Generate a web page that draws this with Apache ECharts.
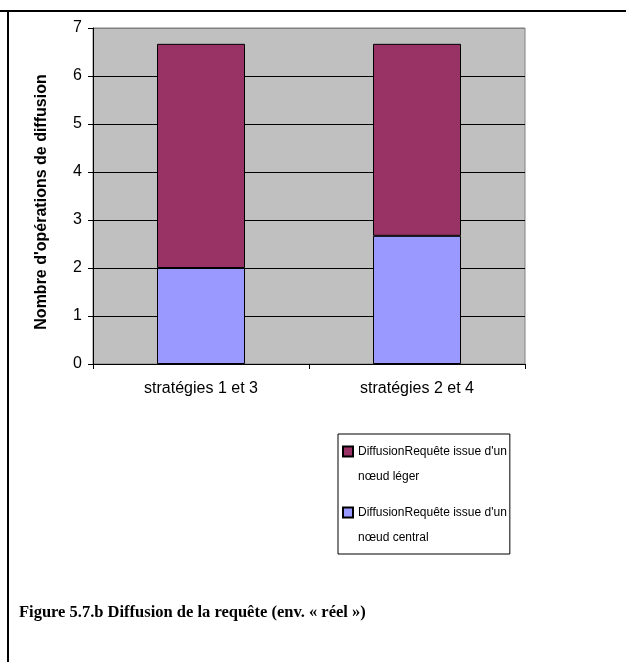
<!DOCTYPE html>
<html>
<head>
<meta charset="utf-8">
<script src="https://cdn.jsdelivr.net/npm/echarts@6/dist/echarts.min.js"></script>
<style>
  html, body { margin: 0; padding: 0; background: #fff; }
  #chart { width: 626px; height: 662px; }
</style>
</head>
<body>
<div id="chart"></div>
<script>
const categories = ['stratégies 1 et 3', 'stratégies 2 et 4'];
const centralValues = [2, 2.67];
const legerValues = [4.67, 4];
const yTicks = [0, 1, 2, 3, 4, 5, 6, 7];
const nameLeger = "DiffusionRequête issue d'un nœud léger";
const nameCentral = "DiffusionRequête issue d'un nœud central";
const caption = 'Figure 5.7.b Diffusion de la requête (env. « réel »)';

const chart = echarts.init(document.getElementById('chart'));

// last grid line (at 7) is the grey frame, the others are black
const gridColors = yTicks.map((v, i) => (i === yTicks.length - 1 ? '#808080' : '#000'));
// square on top, empty point below so the marker sits on the first text line
const topSquare = 'path://M0,0L10,0L10,10L0,10Z M0,35L0,35';

chart.setOption({
  backgroundColor: '#fff',
  animation: false,
  title: {
    text: caption,
    left: 19,
    top: 604,
    padding: 0,
    textStyle: { fontFamily: 'Liberation Serif', fontWeight: 'bold', fontSize: 16.5, color: '#000' },
  },
  graphic: [
    { type: 'line', shape: { x1: 0, y1: 11, x2: 626, y2: 11 }, style: { stroke: '#000', lineWidth: 2 } },
    { type: 'line', shape: { x1: 8, y1: 10, x2: 8, y2: 662 }, style: { stroke: '#000', lineWidth: 2 } },
  ],
  legend: {
    left: 338,
    top: 434,
    orient: 'vertical',
    data: [nameLeger, nameCentral],
    icon: topSquare,
    itemWidth: 10,
    itemHeight: 35,
    itemGap: 11,
    padding: [5, 3, 4, 4],
    borderColor: '#000',
    borderWidth: 1,
    formatter: (n) => n.replace(' nœud', '\nnœud'),
    textStyle: { fontFamily: 'Liberation Sans', fontSize: 12, color: '#000', lineHeight: 25 },
  },
  grid: {
    left: 93,
    right: 101,
    top: 28,
    bottom: 298,
    show: true,
    backgroundColor: '#C0C0C0',
    borderColor: '#808080',
    borderWidth: 1,
  },
  xAxis: {
    type: 'category',
    data: categories,
    axisLine: { lineStyle: { color: '#000', width: 1 } },
    axisTick: { show: true, length: 5, lineStyle: { color: '#000' } },
    axisLabel: { margin: 17, fontFamily: 'Liberation Sans', fontSize: 16, color: '#000' },
  },
  yAxis: {
    type: 'value',
    min: 0,
    max: 7,
    interval: 1,
    name: "Nombre d'opérations de diffusion",
    nameLocation: 'middle',
    nameRotate: 90,
    nameGap: 43,
    nameTextStyle: { fontFamily: 'Liberation Sans', fontWeight: 'bold', fontSize: 16, color: '#000', padding: [0, 12, 0, 0] },
    axisLine: { show: true, lineStyle: { color: '#000', width: 1 } },
    axisTick: { show: true, length: 5, lineStyle: { color: '#000' } },
    axisLabel: { margin: 11, fontFamily: 'Liberation Sans', fontSize: 16, color: '#000' },
    splitLine: { show: true, lineStyle: { color: gridColors, width: 1 } },
  },
  series: [
    {
      name: nameCentral,
      type: 'bar',
      stack: 'total',
      data: centralValues,
      barWidth: 88,
      itemStyle: { color: '#9999FF', borderColor: '#000', borderWidth: 1 },
    },
    {
      name: nameLeger,
      type: 'bar',
      stack: 'total',
      data: legerValues,
      barWidth: 88,
      itemStyle: { color: '#993366', borderColor: '#000', borderWidth: 1 },
    },
  ],
});
</script>
</body>
</html>
